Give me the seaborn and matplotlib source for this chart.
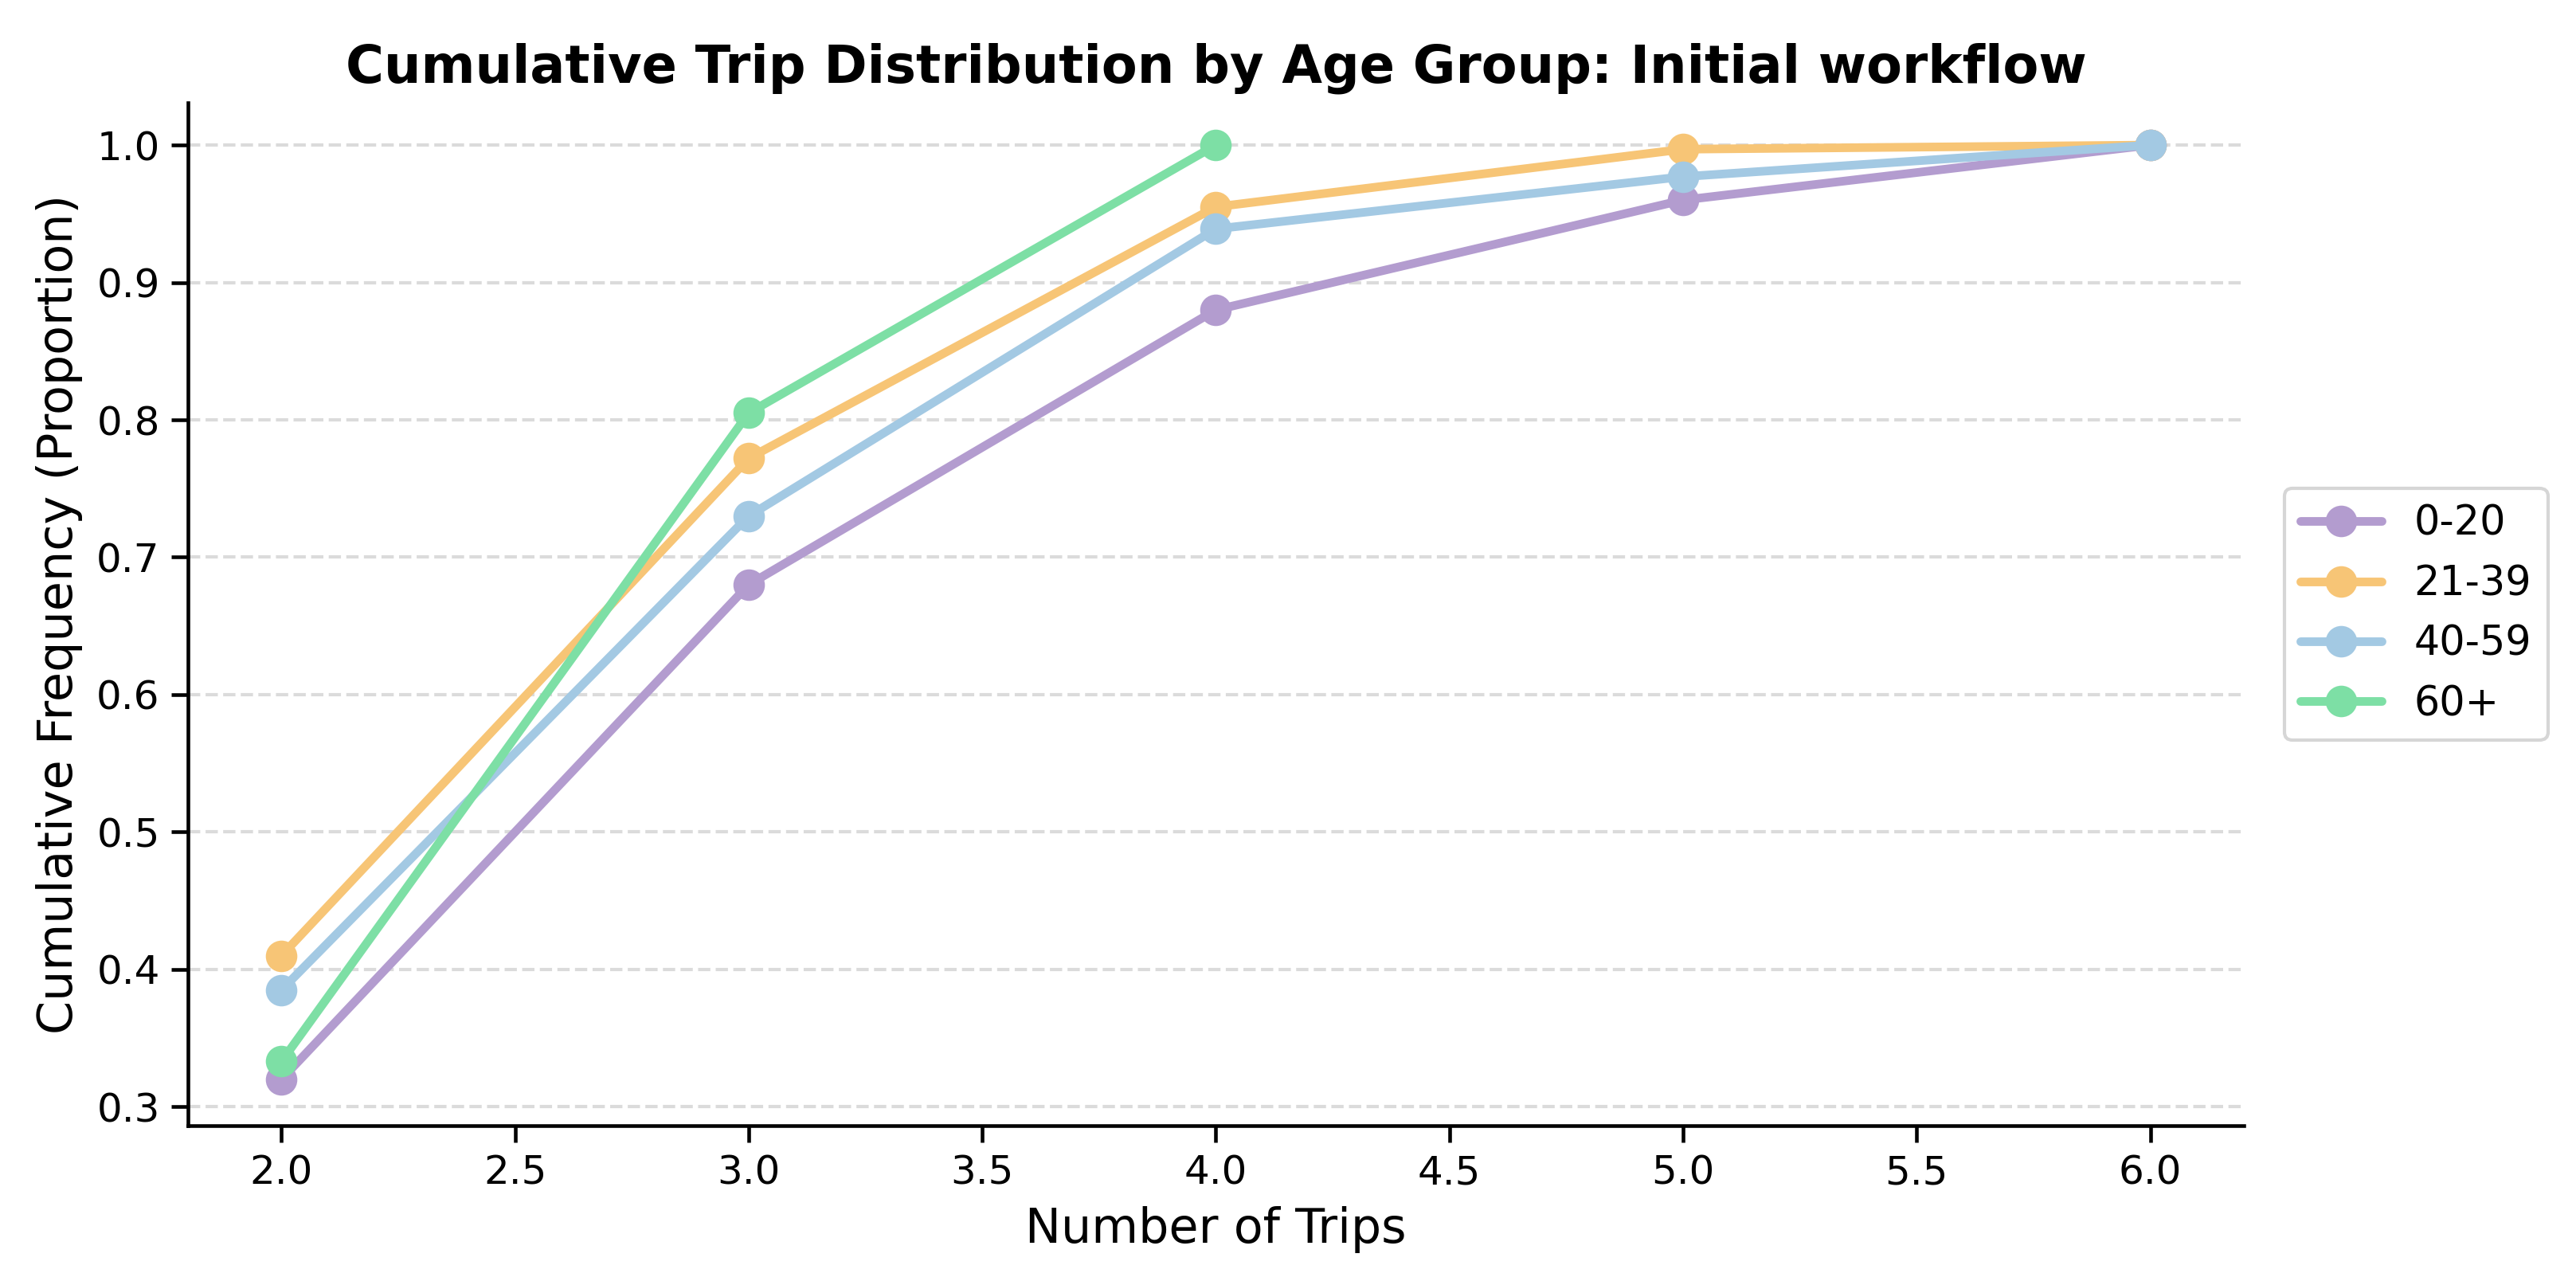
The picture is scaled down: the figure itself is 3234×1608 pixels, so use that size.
import numpy as np
import pandas as pd
import seaborn as sns
import matplotlib.pyplot as plt

# cumulative share of trips per age group
trips = [2.0, 3.0, 4.0, 5.0, 6.0]
age_groups = ["0-20", "21-39", "40-59", "60+"]
cum_0_20 = [0.32, 0.68, 0.88, 0.96, 1.00]
cum_21_39 = [0.41, 0.772, 0.955, 0.997, 1.00]
cum_40_59 = [0.385, 0.73, 0.939, 0.977, 1.00]
cum_60_plus = [0.333, 0.805, 1.00]
colors = ["#b39ccf", "#f7c576", "#a3c9e3", "#7ddfa5"]

rows = []
for group, values in zip(age_groups, [cum_0_20, cum_21_39, cum_40_59, cum_60_plus]):
    for t, v in zip(trips, values):
        rows.append({"Trips": t, "Cumulative": v, "Age Group": group})
df = pd.DataFrame(rows)

sns.set_style("white")
plt.rcParams["text.color"] = "black"
plt.rcParams["axes.labelcolor"] = "black"
plt.rcParams["xtick.color"] = "black"
plt.rcParams["ytick.color"] = "black"

fig, ax = plt.subplots(figsize=(10.78, 5.36), dpi=300)
sns.lineplot(data=df, x="Trips", y="Cumulative", hue="Age Group", hue_order=age_groups,
             palette=colors, marker="o", markersize=9.5, linewidth=2.6, markeredgewidth=0, ax=ax)

ax.set_title("Cumulative Trip Distribution by Age Group: Initial workflow", fontsize=15.7, fontweight="bold")
ax.set_xlabel("Number of Trips", fontsize=14.5)
ax.set_ylabel("Cumulative Frequency (Proportion)", fontsize=14.5)
ax.tick_params(axis="both", labelsize=12, length=5, width=1.1, direction="out", left=True, bottom=True)
ax.yaxis.grid(True, linestyle="--", color="#cccccc", alpha=0.7, linewidth=1)
ax.set_ylim(0.286, 1.031)
ax.set_xlim(1.8, 6.2)
sns.despine(ax=ax)
for s in ["left", "bottom"]:
    ax.spines[s].set_color("black")
    ax.spines[s].set_linewidth(1.1)

ax.legend(loc="center left", bbox_to_anchor=(1.01, 0.5), fontsize=12.2, title=None, frameon=True)

plt.subplots_adjust(left=0.073, right=0.871, top=0.92, bottom=0.121)
plt.savefig("out.png", dpi=300)
